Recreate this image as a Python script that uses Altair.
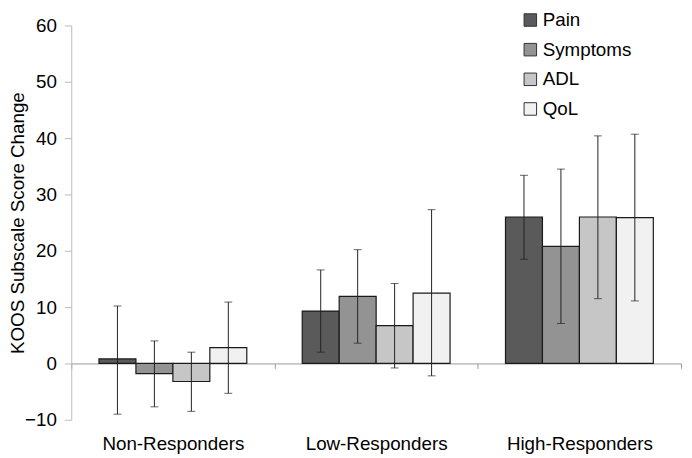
import altair as alt
import pandas as pd

groups = ["Non-Responders", "Low-Responders", "High-Responders"]
subscales = ["Pain", "Symptoms", "ADL", "QoL"]
colors = ["#5a5a5a", "#939393", "#c6c6c6", "#f1f1f1"]

pain = [0.8, 9.3, 26.0]
symptoms = [-1.8, 11.9, 20.8]
adl = [-3.2, 6.7, 26.0]
qol = [2.8, 12.5, 25.9]

pain_hi = [10.2, 16.6, 33.4]
pain_lo = [-9.0, 2.0, 18.5]
symptoms_hi = [4.0, 20.2, 34.5]
symptoms_lo = [-7.7, 3.6, 7.1]
adl_hi = [2.0, 14.2, 40.4]
adl_lo = [-8.5, -0.8, 11.5]
qol_hi = [10.9, 27.3, 40.7]
qol_lo = [-5.3, -2.2, 11.1]

series = {
    "Pain": (pain, pain_lo, pain_hi),
    "Symptoms": (symptoms, symptoms_lo, symptoms_hi),
    "ADL": (adl, adl_lo, adl_hi),
    "QoL": (qol, qol_lo, qol_hi),
}

rows = []
for s in subscales:
    m, lo, hi = series[s]
    for i, g in enumerate(groups):
        rows.append({"group": g, "subscale": s, "value": m[i], "lo": lo[i], "hi": hi[i]})
df = pd.DataFrame(rows)

FONT = "Liberation Sans"

xenc = alt.X(
    "group:N",
    sort=groups,
    scale=alt.Scale(paddingInner=0, paddingOuter=0),
    axis=alt.Axis(
        title=None,
        labelFontSize=19,
        labelColor="#000",
        labelFont=FONT,
        domainColor="#999",
        tickColor="#999",
        tickSize=5,
        tickBand="extent",
        offset=-57,
        labelPadding=67,
        labelAngle=0,
        grid=False,
    ),
)
xoff = alt.XOffset("subscale:N", sort=subscales,
                   scale=alt.Scale(paddingInner=0, paddingOuter=0.75))

yscale = alt.Scale(domain=[-10, 60], nice=False)

base = alt.Chart(df)

bars = base.mark_bar(stroke="#1a1a1a", strokeWidth=1.2).encode(
    x=xenc,
    xOffset=xoff,
    y=alt.Y(
        "value:Q",
        scale=yscale,
        axis=alt.Axis(
            title="KOOS Subscale Score Change",
            titleFontSize=19,
            titleFontWeight="normal",
            titleFont=FONT,
            titleColor="#000",
            titlePadding=-3,
            labelFontSize=19,
            labelFont=FONT,
            labelColor="#000",
            labelPadding=8,
            values=[-10, 0, 10, 20, 30, 40, 50, 60],
            domainColor="#bbb",
            tickColor="#bbb",
            tickSize=7,
            grid=False,
        ),
    ),
    color=alt.Color(
        "subscale:N",
        sort=subscales,
        scale=alt.Scale(domain=subscales, range=colors),
        legend=alt.Legend(
            title=None,
            orient="none",
            legendX=455,
            legendY=-15,
            symbolType="square",
            symbolSize=160,
            symbolStrokeColor="#333",
            symbolStrokeWidth=1,
            labelFontSize=19,
            labelFont=FONT,
            labelColor="#000",
            labelOffset=3,
            rowPadding=10,
        ),
    ),
)

rules = base.mark_rule(color="#222", strokeWidth=1).encode(
    x=alt.X("group:N", sort=groups),
    xOffset=xoff,
    y=alt.Y("lo:Q", scale=yscale),
    y2="hi:Q",
)

caps_hi = base.mark_tick(color="#222", thickness=1, size=8).encode(
    x=alt.X("group:N", sort=groups),
    xOffset=xoff,
    y=alt.Y("hi:Q", scale=yscale),
)
caps_lo = base.mark_tick(color="#222", thickness=1, size=8).encode(
    x=alt.X("group:N", sort=groups),
    xOffset=xoff,
    y=alt.Y("lo:Q", scale=yscale),
)

chart = (
    alt.layer(bars, rules, caps_hi, caps_lo)
    .properties(
        width=617,
        height=399,
        autosize=alt.AutoSizeParams(type="none"),
        padding={"left": 64, "top": 15, "right": 3, "bottom": 36},
        background="white",
    )
    .configure_view(stroke=None)
)

chart.save("out.html", embed_options={"renderer": "svg", "actions": False})
